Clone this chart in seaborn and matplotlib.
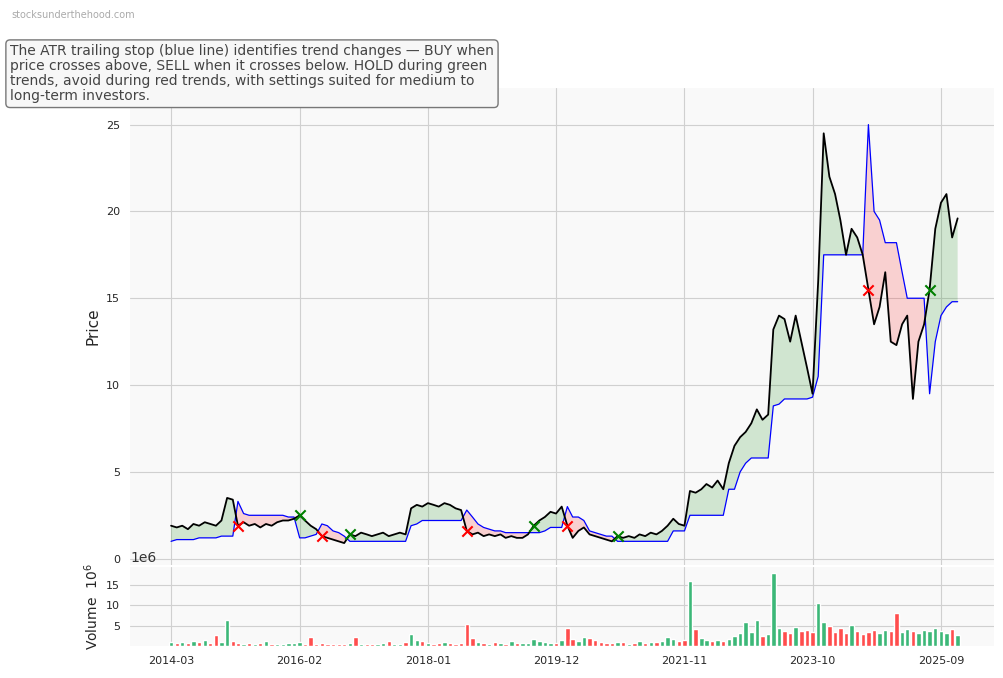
import numpy as np
import pandas as pd
import seaborn as sns
import matplotlib.pyplot as plt
import matplotlib.dates as mdates
from matplotlib.ticker import FuncFormatter

# monthly data, 2014-03 .. 2025-12
fechas = pd.date_range("2014-03-01", "2025-12-01", freq="MS")

precio = [
    1.9, 1.8, 1.9, 1.7, 2.0, 1.9, 2.1, 2.0, 1.9, 2.2,
    3.5, 3.4, 1.9, 2.1, 1.9, 2.0, 1.8, 2.0, 1.9, 2.1, 2.2, 2.2,
    2.3, 2.5, 2.2, 1.9, 1.7, 1.3, 1.2, 1.1, 1.0, 0.9, 1.4, 1.3,
    1.5, 1.4, 1.3, 1.4, 1.5, 1.3, 1.4, 1.5, 1.4, 2.9, 3.1, 3.0,
    3.2, 3.1, 3.0, 3.2, 3.1, 2.9, 2.8, 1.6, 1.4, 1.5, 1.3, 1.4,
    1.3, 1.4, 1.2, 1.3, 1.2, 1.2, 1.4, 1.9, 2.2, 2.4, 2.7, 2.6,
    3.0, 1.9, 1.2, 1.6, 1.8, 1.4, 1.3, 1.2, 1.1, 1.0, 1.3, 1.2,
    1.3, 1.2, 1.4, 1.3, 1.5, 1.4, 1.6, 1.9, 2.3, 2.0, 1.9, 3.9,
    3.8, 4.0, 4.3, 4.1, 4.5, 4.0, 5.5, 6.5, 7.0, 7.3, 7.8, 8.6,
    8.0, 8.3, 13.2, 14.0, 13.8, 12.5, 14.0, 12.5, 11.0, 9.5, 16.0, 24.5,
    22.0, 21.0, 19.5, 17.5, 19.0, 18.5, 17.5, 15.5, 13.5, 14.5, 16.5, 12.5,
    12.3, 13.5, 14.0, 9.2, 12.5, 13.5, 15.5, 19.0, 20.5, 21.0, 18.5, 19.6,
]

stop = [
    1.0, 1.1, 1.1, 1.1, 1.1, 1.2, 1.2, 1.2, 1.2, 1.3,
    1.3, 1.3, 3.3, 2.6, 2.5, 2.5, 2.5, 2.5, 2.5, 2.5, 2.5, 2.4,
    2.4, 1.2, 1.2, 1.3, 1.4, 2.0, 1.9, 1.6, 1.5, 1.3, 1.0, 1.0,
    1.0, 1.0, 1.0, 1.0, 1.0, 1.0, 1.0, 1.0, 1.0, 1.9, 2.0, 2.2,
    2.2, 2.2, 2.2, 2.2, 2.2, 2.2, 2.2, 2.8, 2.4, 2.0, 1.8, 1.7,
    1.6, 1.6, 1.5, 1.5, 1.5, 1.5, 1.5, 1.5, 1.5, 1.6, 1.8, 1.8,
    1.8, 3.0, 2.4, 2.4, 2.2, 1.6, 1.5, 1.4, 1.3, 1.3, 1.0, 1.0,
    1.0, 1.0, 1.0, 1.0, 1.0, 1.0, 1.0, 1.0, 1.6, 1.6, 1.6, 2.5,
    2.5, 2.5, 2.5, 2.5, 2.5, 2.5, 4.0, 4.0, 5.0, 5.5, 5.8, 5.8,
    5.8, 5.8, 8.8, 8.9, 9.2, 9.2, 9.2, 9.2, 9.2, 9.3, 10.5, 17.5,
    17.5, 17.5, 17.5, 17.5, 17.5, 17.5, 17.5, 25.0, 20.0, 19.5, 18.2, 18.2,
    18.2, 16.5, 15.0, 15.0, 15.0, 15.0, 9.5, 12.5, 14.0, 14.5, 14.8, 14.8,
]

volumen = [
    1.0, 0.8, 0.9, 0.7, 1.2, 0.9, 1.5, 0.8, 2.8, 1.0,
    6.5, 1.2, 0.8, 0.6, 0.7, 0.5, 0.8, 1.2, 0.6, 0.5, 0.6, 0.7,
    0.8, 1.0, 0.6, 2.3, 0.5, 0.8, 0.4, 0.6, 0.5, 0.4, 0.7, 2.2,
    0.5, 0.4, 0.6, 0.5, 0.8, 1.2, 0.6, 0.4, 0.9, 3.0, 1.6, 1.2,
    0.8, 0.6, 0.7, 1.0, 0.8, 0.6, 0.8, 5.3, 2.0, 1.0, 0.8, 0.6,
    0.9, 0.7, 0.6, 1.2, 0.8, 0.7, 0.8, 1.8, 1.2, 0.9, 0.7, 0.8,
    1.5, 4.5, 1.8, 1.2, 2.3, 2.0, 1.6, 1.0, 0.8, 0.7, 1.0, 0.9,
    0.6, 0.8, 1.2, 0.7, 0.9, 1.0, 1.2, 2.2, 1.8, 1.3, 1.5, 16.0,
    4.2, 2.0, 1.5, 1.3, 1.6, 1.2, 1.8, 2.5, 3.2, 6.0, 3.5, 6.3,
    2.5, 3.0, 18.0, 4.5, 3.8, 3.2, 4.8, 3.6, 4.0, 3.5, 10.5, 6.0,
    5.0, 3.5, 4.5, 3.2, 5.2, 3.8, 3.0, 3.5, 4.0, 3.2, 4.0, 3.8,
    8.0, 3.5, 4.2, 3.8, 3.2, 4.0, 3.8, 4.5, 3.6, 3.2, 4.2, 2.8,
]

ticks_x = ["2014-03", "2016-02", "2018-01", "2019-12", "2021-11", "2023-10", "2025-09"]

df = pd.DataFrame({"Fecha": fechas, "Precio": precio, "Stop": stop,
                   "Volumen": np.array(volumen) * 1e6})
arriba = df["Precio"] >= df["Stop"]

sns.set_style("whitegrid", {"axes.facecolor": "#f9f9f9", "grid.color": "#d0d0d0"})
plt.rcParams["font.family"] = ["DejaVu Sans"]

fig = plt.figure(figsize=(10.04, 6.78), dpi=100)
ax = fig.add_axes([0.1295, 0.167, 0.861, 0.703])
axv = fig.add_axes([0.1295, 0.047, 0.861, 0.117], sharex=ax)

ax.fill_between(df["Fecha"], df["Precio"], df["Stop"], where=arriba,
                interpolate=True, color="green", alpha=0.16, linewidth=0)
ax.fill_between(df["Fecha"], df["Precio"], df["Stop"], where=~arriba,
                interpolate=True, color="red", alpha=0.16, linewidth=0)
sns.lineplot(data=df, x="Fecha", y="Stop", ax=ax, color="blue", linewidth=0.9)
sns.lineplot(data=df, x="Fecha", y="Precio", ax=ax, color="black", linewidth=1.3)

# cruces: compra / venta
cambio = arriba.astype(int).diff().fillna(0)
compras = df[cambio > 0]
ventas = df[cambio < 0]
ax.scatter(compras["Fecha"], compras["Precio"], marker="x", color="green", s=55, zorder=5)
ax.scatter(ventas["Fecha"], ventas["Precio"], marker="x", color="red", s=55, zorder=5)

ax.set_ylim(-0.35, 27.1)
ax.set_yticks([0, 5, 10, 15, 20, 25])
ax.set_ylabel("Price", fontsize=11)
ax.set_xlabel("")
ax.tick_params(axis="x", labelbottom=False, length=0)
ax.tick_params(axis="y", labelsize=8)

colores = np.where(df["Precio"].diff().fillna(0) >= 0, "#3cb878", "#ff4d4d")
axv.bar(df["Fecha"], df["Volumen"], width=24, color=colores)
axv.set_ylim(0, 19.4e6)
axv.set_yticks([5e6, 10e6, 15e6])
axv.yaxis.set_major_formatter(FuncFormatter(lambda v, p: f"{v / 1e6:.0f}"))
axv.set_ylabel("Volume  $10^6$", fontsize=10)
axv.tick_params(axis="both", labelsize=8)
axv.text(0.0, 1.02, "1e6", transform=axv.transAxes, fontsize=10, color="#333333",
         ha="left", va="bottom")

axv.set_xticks(pd.to_datetime(ticks_x))
axv.xaxis.set_major_formatter(mdates.DateFormatter("%Y-%m"))
axv.set_xlim(pd.Timestamp("2013-07-20"), pd.Timestamp("2026-06-20"))

for a in (ax, axv):
    for s in a.spines.values():
        s.set_visible(False)

fig.text(0.011, 0.985, "stocksunderthehood.com", fontsize=7, color="#aaaaaa", va="top")
fig.text(0.010, 0.935,
         "The ATR trailing stop (blue line) identifies trend changes \u2014 BUY when\n"
         "price crosses above, SELL when it crosses below. HOLD during green\n"
         "trends, avoid during red trends, with settings suited for medium to\n"
         "long-term investors.",
         fontsize=10, color="#444444", va="top", linespacing=1.1,
         bbox=dict(boxstyle="round,pad=0.3", facecolor="#f7f7f7", edgecolor="#777777"))

fig.savefig("out.png", dpi=100)
